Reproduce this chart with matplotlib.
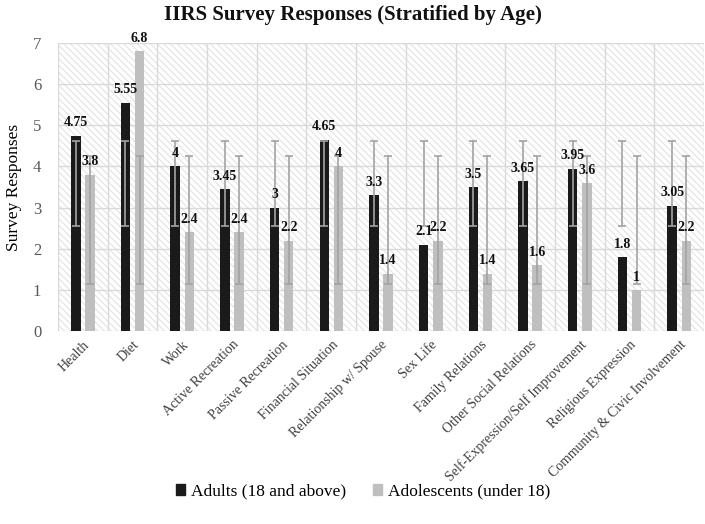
import numpy as np
import matplotlib
matplotlib.use("Agg")
import matplotlib.pyplot as plt
from matplotlib.patches import Rectangle
import matplotlib as mpl

categories = ["Health", "Diet", "Work", "Active Recreation", "Passive Recreation",
              "Financial Situation", "Relationship w/ Spouse", "Sex Life",
              "Family Relations", "Other Social Relations",
              "Self-Expression/Self Improvement", "Religious Expression",
              "Community & Civic Involvement"]
adults = [4.75, 5.55, 4, 3.45, 3, 4.65, 3.3, 2.1, 3.5, 3.65, 3.95, 1.8, 3.05]
adolescents = [3.8, 6.8, 2.4, 2.4, 2.2, 4, 1.4, 2.2, 1.4, 1.6, 3.6, 1, 2.2]
series_names = ["Adults (18 and above)", "Adolescents (under 18)"]
y_ticks = [0, 1, 2, 3, 4, 5, 6, 7]

# Excel "standard deviation" error bars: centred on series mean, +/- 1 SD
def sd_bar(vals):
    v = np.asarray(vals, float)
    return v.mean(), v.std(ddof=1)

plt.rcParams['font.family'] = ['Liberation Serif', 'DejaVu Serif']
mpl.rcParams['hatch.linewidth'] = 0.8

fig = plt.figure(figsize=(7.05, 5.24), dpi=100)
ax = fig.add_axes([0.0823, 0.368, 0.9163, 0.550])

n = len(categories)
x = np.arange(n)
w = 0.19
off = 0.1425
black = '#1a1a1a'
gray = '#bfbfbf'
errc = '#a3a3a3'

ax.set_xlim(-0.5, n - 0.5)
ax.set_ylim(0, 7)

# hatched background
bg = Rectangle((0, 0), 1, 1, transform=ax.transAxes, facecolor='white',
               edgecolor='#e3e3e3', hatch='\\\\\\\\\\', linewidth=0, zorder=0)
ax.add_patch(bg)

for yv in y_ticks[1:]:
    ax.axhline(yv, color='#d9d9d9', lw=1.0, zorder=1)
for xb in np.arange(-0.5, n + 0.5, 1):
    ax.axvline(xb, color='#d9d9d9', lw=1.0, zorder=1)
ax.axhline(0, color='#d9d9d9', lw=1.0, zorder=1)

ax.bar(x - off, adults, w, color=black, zorder=3)
ax.bar(x + off, adolescents, w, color=gray, zorder=3)

for vals, xs in [(adults, x - off), (adolescents, x + off)]:
    m, s = sd_bar(vals)
    ax.errorbar(xs, [m] * n, yerr=s, fmt='none', ecolor=errc, elinewidth=1.2,
                capsize=3.2, capthick=1.2, zorder=4)

def fmt(v):
    return ('%g' % v)

for vals, xs in [(adults, x - off), (adolescents, x + off)]:
    for xi, v in zip(xs, vals):
        ax.annotate(fmt(v), (xi, v), xytext=(0, 4.5), textcoords='offset points',
                    ha='center', va='bottom', fontsize=10, fontweight='bold',
                    color='#111111', zorder=5)

for sp in ax.spines.values():
    sp.set_visible(False)

ax.set_yticks(y_ticks)
ax.tick_params(axis='y', length=0, labelsize=12, labelcolor='#595959', pad=12)
ax.set_xticks(x)
ax.set_xticklabels(categories, rotation=45, ha='right', rotation_mode='anchor',
                   fontsize=10, color='#404040')
ax.tick_params(axis='x', length=0, pad=5)
ax.set_ylabel('Survey Responses', fontsize=12.5, color='#000000', labelpad=8)

fig.suptitle('IIRS Survey Responses (Stratified by Age)', fontsize=15,
             fontweight='bold', x=0.5, y=0.99, color='#111111')

handles = [Rectangle((0, 0), 1, 1, color=black), Rectangle((0, 0), 1, 1, color=gray)]
fig.legend(handles, series_names, loc='center', bbox_to_anchor=(0.515, 0.062),
           ncol=2, frameon=False, fontsize=12.5, handlelength=0.55, handleheight=0.55,
           columnspacing=1.5, handletextpad=0.35)

fig.savefig('out.png', dpi=100)
